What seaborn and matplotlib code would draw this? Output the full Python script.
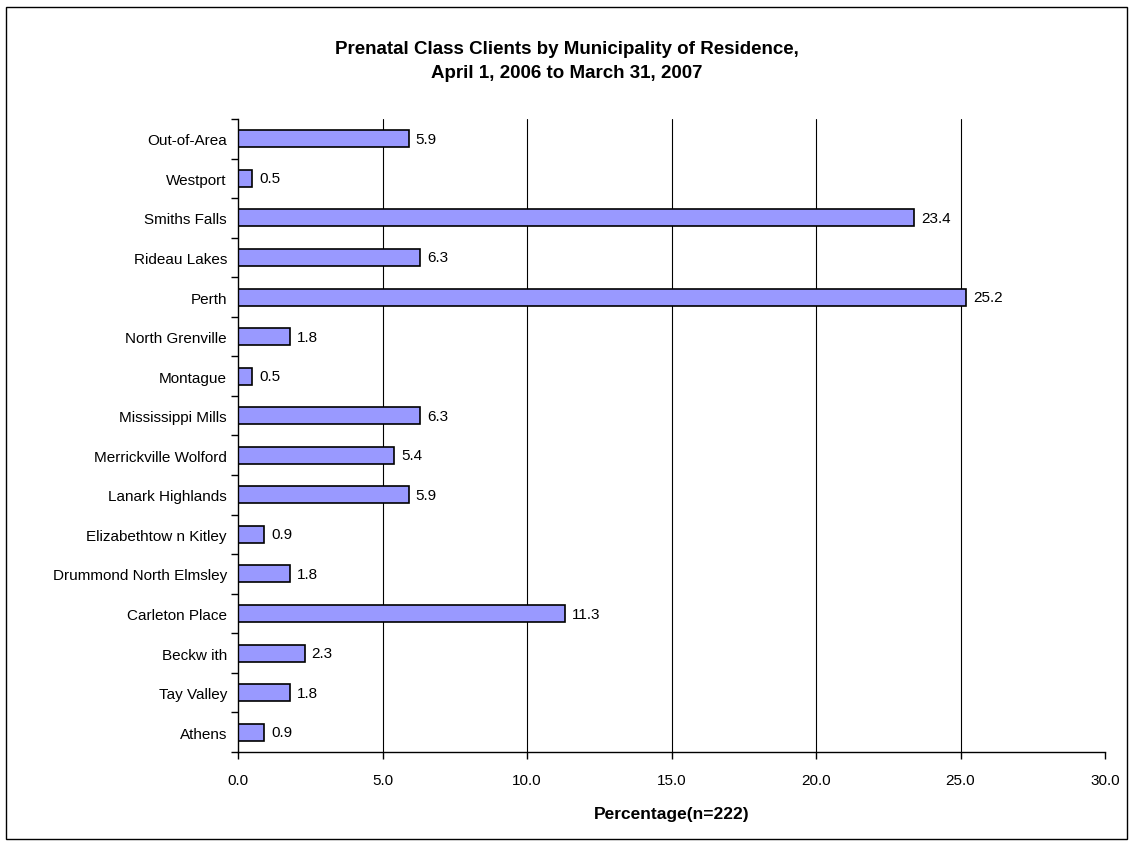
import pandas as pd
import seaborn as sns
import matplotlib.pyplot as plt
from matplotlib.patches import Rectangle

# categories from top to bottom
municipalities = ['Out-of-Area', 'Westport', 'Smiths Falls', 'Rideau Lakes', 'Perth',
                  'North Grenville', 'Montague', 'Mississippi Mills', 'Merrickville Wolford',
                  'Lanark Highlands', 'Elizabethtow n Kitley', 'Drummond North Elmsley',
                  'Carleton Place', 'Beckw ith', 'Tay Valley', 'Athens']
percentages = [5.9, 0.5, 23.4, 6.3, 25.2, 1.8, 0.5, 6.3, 5.4, 5.9, 0.9, 1.8, 11.3, 2.3, 1.8, 0.9]
x_ticks = [0, 5, 10, 15, 20, 25, 30]

df = pd.DataFrame({'Municipality': municipalities, 'Percentage': percentages})

sns.set_style('white')
plt.rcParams['font.family'] = ['Liberation Sans', 'DejaVu Sans']
plt.rcParams['text.color'] = 'black'
plt.rcParams['xtick.color'] = 'black'
plt.rcParams['ytick.color'] = 'black'
plt.rcParams['axes.labelcolor'] = 'black'

fig = plt.figure(figsize=(11.33, 8.45), dpi=100)
ax = fig.add_axes([0.2101, 0.1089, 0.7652, 0.7491])

sns.barplot(data=df, x='Percentage', y='Municipality', orient='h',
            color='#9999FF', edgecolor='black', linewidth=1.2,
            width=0.43, saturation=1, ax=ax)

# value labels right of each bar
for p, v in zip(ax.patches, percentages):
    ax.text(p.get_width() + 0.25, p.get_y() + p.get_height() / 2, f'{v:.1f}',
            va='center', ha='left', fontsize=11)

ax.set_xlim(0, 30)
ax.set_ylim(len(municipalities) - 0.5, -0.5)
ax.set_xticks(x_ticks)
ax.set_xticklabels([f'{t:.1f}' for t in x_ticks], fontsize=11)
ax.tick_params(axis='x', length=5, width=1, direction='out', pad=10, bottom=True)
ax.tick_params(axis='y', which='major', length=0, labelsize=11, pad=8)
ax.set_yticks([i + 0.5 for i in range(-1, len(municipalities))], minor=True)
ax.tick_params(axis='y', which='minor', length=5, width=1, direction='out', left=True)

for t in x_ticks[1:-1]:
    ax.axvline(t, color='black', linewidth=0.8, zorder=0)

for s in ['top', 'right']:
    ax.spines[s].set_visible(False)
for s in ['left', 'bottom']:
    ax.spines[s].set_color('black')
    ax.spines[s].set_linewidth(1)

ax.set_ylabel('')
ax.set_xlabel('Percentage(n=222)', fontsize=12.5, fontweight='bold', labelpad=14)

fig.text(0.5, 0.927, 'Prenatal Class Clients by Municipality of Residence,\nApril 1, 2006 to March 31, 2007',
         ha='center', va='center', fontsize=13.5, fontweight='bold', linespacing=1.55)

# outer chart border
fig.patches.append(Rectangle((0.005, 0.006), 0.99, 0.985, transform=fig.transFigure,
                             fill=False, edgecolor='black', linewidth=1))

fig.savefig('out.png', dpi=100)
